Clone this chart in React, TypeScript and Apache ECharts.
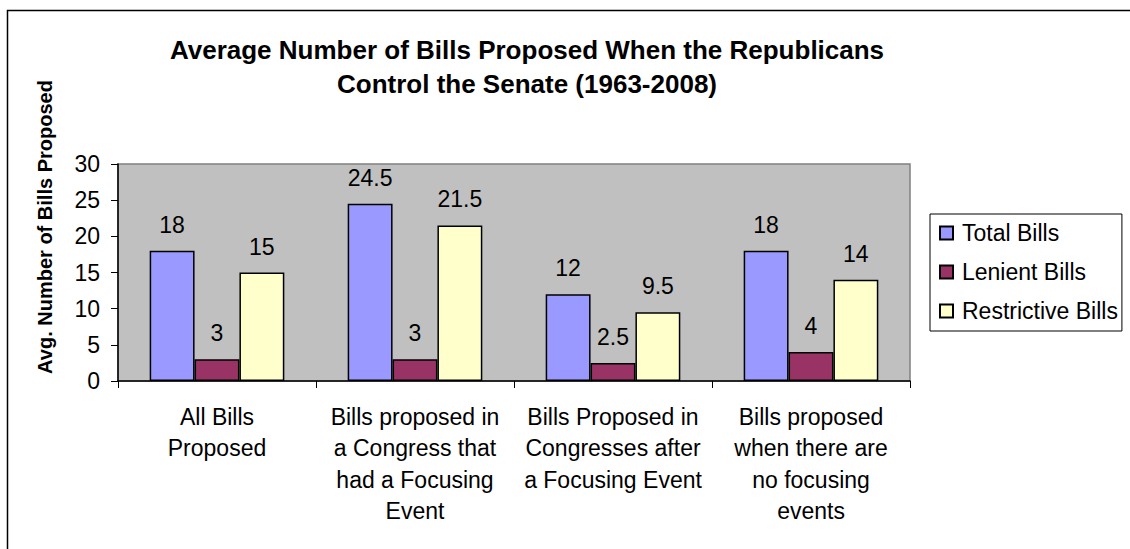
import React, { useEffect, useRef } from "react";
import * as echarts from "echarts";

const categories = [
  "All Bills\nProposed",
  "Bills proposed in\na Congress that\nhad a Focusing\nEvent",
  "Bills Proposed in\nCongresses after\na Focusing Event",
  "Bills proposed\nwhen there are\nno focusing\nevents",
];
const totalBills = [18, 24.5, 12, 18];
const lenientBills = [3, 3, 2.5, 4];
const restrictiveBills = [15, 21.5, 9.5, 14];
const seriesNames = ["Total Bills", "Lenient Bills", "Restrictive Bills"];
const seriesColors = ["#9999FF", "#993366", "#FFFFCC"];

const FONT = "'Liberation Sans', Arial, sans-serif";

export default function App() {
  const ref = useRef<HTMLDivElement>(null);
  useEffect(() => {
    document.body.style.margin = "0";
    if (!ref.current) return;
    const chart = echarts.init(ref.current, null, { renderer: "svg" });
    const values = [totalBills, lenientBills, restrictiveBills];
    chart.setOption({
      animation: false,
      backgroundColor: "#FFFFFF",
      textStyle: { fontFamily: FONT },
      title: {
        text: "Average Number of Bills Proposed When the Republicans\nControl the Senate (1963-2008)",
        left: 522,
        top: 28,
        textAlign: "center",
        textStyle: {
          fontFamily: FONT,
          fontSize: 26,
          fontWeight: "bold",
          lineHeight: 34,
          color: "#000",
        },
      },
      graphic: [
        {
          type: "rect",
          shape: { x: 7.5, y: 10.5, width: 1300, height: 700 },
          style: { fill: "none", stroke: "#000", lineWidth: 1.5 },
          silent: true,
          z: -1,
        },
        {
          type: "text",
          x: 45,
          y: 227,
          rotation: Math.PI / 2,
          style: {
            text: "Avg. Number of Bills Proposed",
            font: `bold 20px ${FONT}`,
            fill: "#000",
            textAlign: "center",
            textVerticalAlign: "middle",
          },
        },
      ],
      legend: {
        orient: "vertical",
        left: 930,
        top: 214,
        padding: [7, 4, 8, 9],
        itemWidth: 13,
        itemHeight: 13,
        itemGap: 15,
        borderColor: "#000",
        borderWidth: 1,
        icon: "rect",
        textStyle: { fontFamily: FONT, fontSize: 23, color: "#000", lineHeight: 24, padding: [0, 0, 0, 4] },
        data: seriesNames,
      },
      grid: {
        left: 118,
        top: 164,
        width: 792,
        height: 217,
        show: true,
        backgroundColor: "#C0C0C0",
        borderColor: "#808080",
        borderWidth: 1.5,
      },
      xAxis: {
        type: "category",
        data: categories,
        axisLine: { show: true, lineStyle: { color: "#000", width: 1.5 } },
        axisTick: { show: true, length: 7, lineStyle: { color: "#000" }, alignWithLabel: false },
        axisLabel: {
          interval: 0,
          margin: 20,
          fontFamily: FONT,
          fontSize: 23,
          lineHeight: 31.5,
          color: "#000",
          align: "center",
        },
        splitLine: { show: false },
      },
      yAxis: {
        type: "value",
        min: 0,
        max: 30,
        interval: 5,
        axisLine: { show: true, lineStyle: { color: "#000", width: 1.5 } },
        axisTick: { show: true, length: 7, lineStyle: { color: "#000" } },
        axisLabel: { margin: 18, fontFamily: FONT, fontSize: 23, color: "#000" },
        splitLine: { show: false },
      },
      series: seriesNames.map((name, i) => ({
        name,
        type: "bar",
        data: values[i],
        barGap: "0%",
        barCategoryGap: "32%",
        itemStyle: { color: seriesColors[i], borderColor: "#000", borderWidth: 1.5 },
        label: {
          show: true,
          position: "top",
          distance: 14,
          fontFamily: FONT,
          fontSize: 23,
          lineHeight: 24,
          color: "#000",
        },
      })),
    });
    return () => chart.dispose();
  }, []);
  return <div ref={ref} style={{ width: 1130, height: 549 }} />;
}
